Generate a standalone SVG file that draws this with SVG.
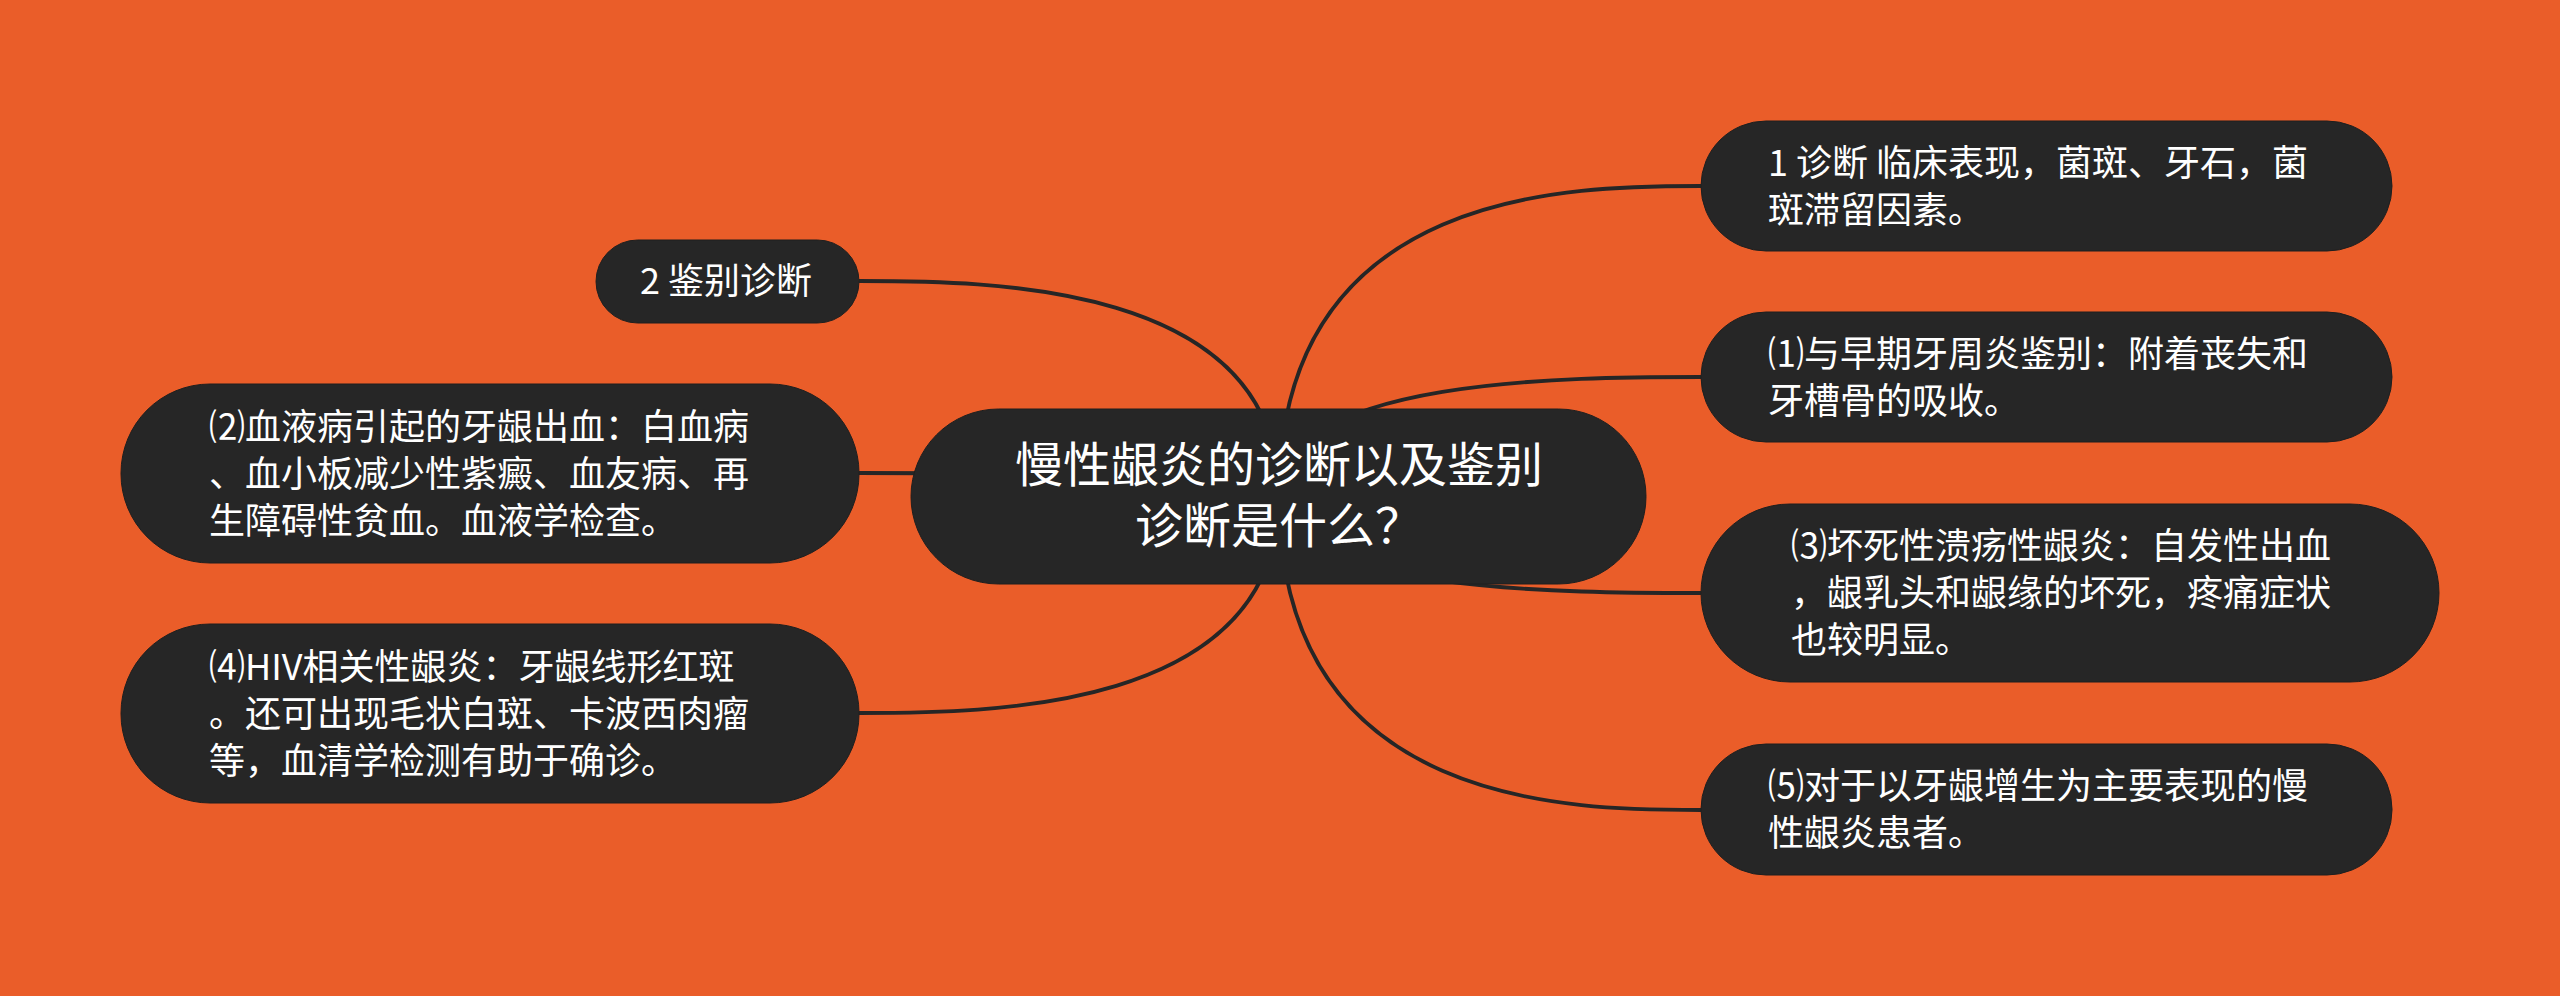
<svg xmlns="http://www.w3.org/2000/svg" width="2560" height="996" viewBox="0 0 2560 996">
<style>
.bg{fill:#EA5D29}
.node{fill:#262626;stroke:#1f1f1f;stroke-width:1}
.link{fill:none;stroke:#262626;stroke-width:3.8}
.t{fill:#ffffff;font-family:"Noto Sans CJK SC","Noto Sans",sans-serif;font-size:36px}
.tc{fill:#ffffff;font-family:"Noto Sans CJK SC","Noto Sans",sans-serif;font-size:48px;text-anchor:middle}
</style>
<rect class="bg" x="0" y="0" width="2560" height="996"/>
<g id="connectors">
<path class="link" d="M1279,496 C1279,186 1574,186 1701,186"/>
<path class="link" d="M1279,496 C1279,377 1574,377 1701,377"/>
<path class="link" d="M1279,496 C1279,593 1574,593 1701,593"/>
<path class="link" d="M1279,496 C1279,810 1574,810 1701,810"/>
<path class="link" d="M1279,496 C1279,281 985,281 859,281"/>
<path class="link" d="M1279,496 C1279,473 985,473 859,473"/>
<path class="link" d="M1279,496 C1279,713 985,713 859,713"/>
</g>
<g id="center">
<rect class="node" x="911" y="409" width="735" height="175" rx="87.5" ry="87.5"/>
<text class="tc" x="1279" y="482">慢性龈炎的诊断以及鉴别</text>
<text class="tc" x="1279" y="543">诊断是什么？</text>
</g>
<g id="n1">
<rect class="node" x="1701" y="121" width="691" height="130" rx="65" ry="65"/>
<text class="t" x="1768" y="175.5">1 诊断 临床表现，菌斑、牙石，菌</text>
<text class="t" x="1768" y="222.5">斑滞留因素。</text>
</g>
<g id="n1a">
<rect class="node" x="1701" y="312" width="691" height="130" rx="65" ry="65"/>
<text class="t" x="1768" y="366.5">⑴与早期牙周炎鉴别：附着丧失和</text>
<text class="t" x="1768" y="413.5">牙槽骨的吸收。</text>
</g>
<g id="n3">
<rect class="node" x="1701" y="504" width="738" height="178" rx="89" ry="89"/>
<text class="t" x="1791" y="559">⑶坏死性溃疡性龈炎：自发性出血</text>
<text class="t" x="1791" y="606">，龈乳头和龈缘的坏死，疼痛症状</text>
<text class="t" x="1791" y="653">也较明显。</text>
</g>
<g id="n5">
<rect class="node" x="1701" y="744" width="691" height="131" rx="65" ry="65"/>
<text class="t" x="1768" y="799">⑸对于以牙龈增生为主要表现的慢</text>
<text class="t" x="1768" y="846">性龈炎患者。</text>
</g>
<g id="n2">
<rect class="node" x="596" y="240" width="263" height="83" rx="41.5" ry="41.5"/>
<text class="t" x="640" y="294">2 鉴别诊断</text>
</g>
<g id="n2a">
<rect class="node" x="121" y="384" width="738" height="179" rx="89" ry="89"/>
<text class="t" x="209" y="439.5">⑵血液病引起的牙龈出血：白血病</text>
<text class="t" x="209" y="486.5">、血小板减少性紫癜、血友病、再</text>
<text class="t" x="209" y="533.5">生障碍性贫血。血液学检查。</text>
</g>
<g id="n4">
<rect class="node" x="121" y="624" width="738" height="179" rx="89" ry="89"/>
<text class="t" x="209" y="679.5">⑷HIV相关性龈炎：牙龈线形红斑</text>
<text class="t" x="209" y="726.5">。还可出现毛状白斑、卡波西肉瘤</text>
<text class="t" x="209" y="773.5">等，血清学检测有助于确诊。</text>
</g>
</svg>
